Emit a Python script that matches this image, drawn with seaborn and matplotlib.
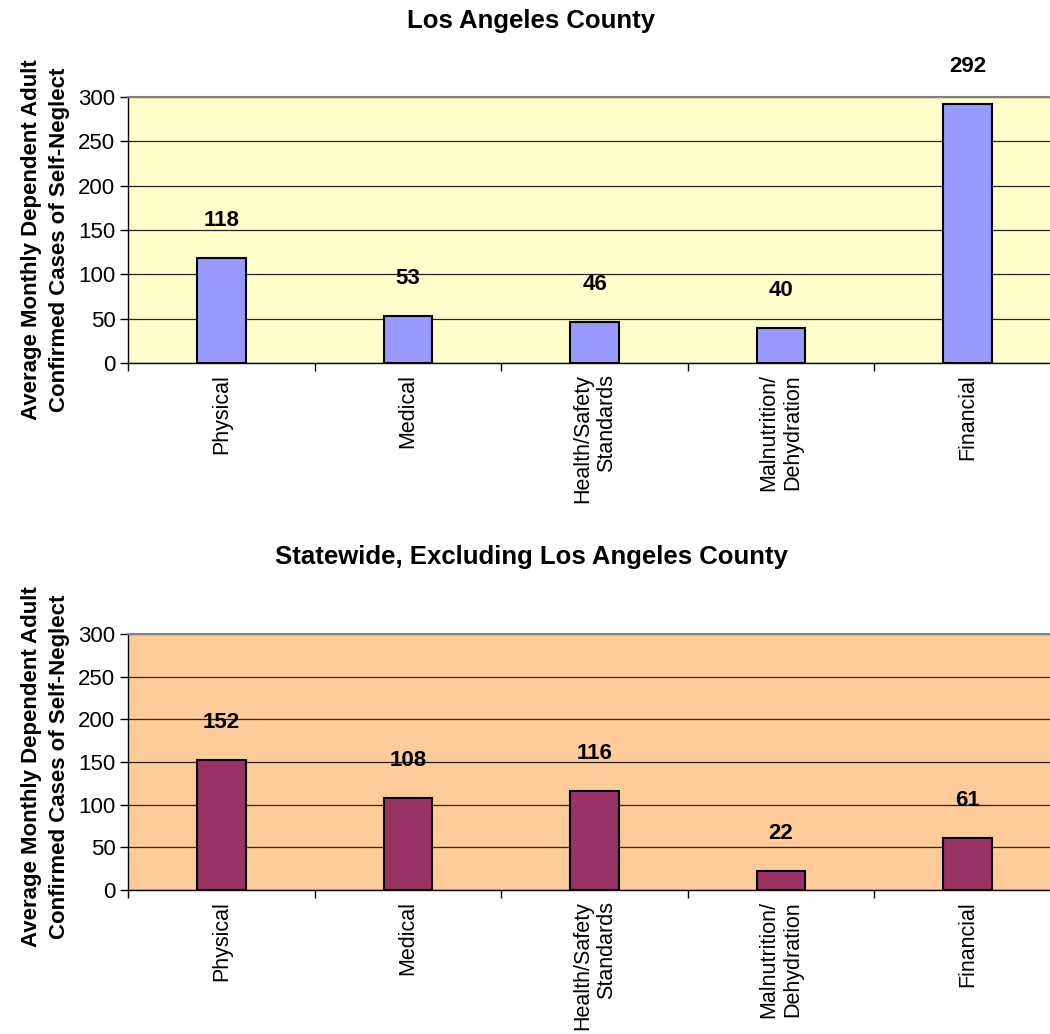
import numpy as np
import pandas as pd
import seaborn as sns
import matplotlib.pyplot as plt
from matplotlib.ticker import FixedLocator

categories = ['Physical', 'Medical', 'Health/Safety\nStandards', 'Malnutrition/\nDehydration', 'Financial']
la_values = [118, 53, 46, 40, 292]
state_values = [152, 108, 116, 22, 61]
yticks = [0, 50, 100, 150, 200, 250, 300]

sns.set_theme(style="white")
plt.rcParams['font.family'] = ['Liberation Sans', 'DejaVu Sans']
plt.rcParams.update({'text.color': 'black', 'axes.labelcolor': 'black',
                     'xtick.color': 'black', 'ytick.color': 'black'})

fig = plt.figure(figsize=(10.5, 10.34), dpi=100)

# title, values, bar colour, background, axes rect, title y, ylabel y
panels = [
    ('Los Angeles County', la_values, '#9999FF', '#FFFFCC', [0.1219, 0.6489, 0.8886, 0.2573], 0.980, 0.462),
    ('Statewide, Excluding Los Angeles County', state_values, '#993366', '#FFCC99', [0.1219, 0.1393, 0.8886, 0.2476], 0.461, 0.48),
]

for title, vals, bar_c, bg_c, pos, ty, ly in panels:
    ax = fig.add_axes(pos)
    df = pd.DataFrame({'cat': categories, 'val': vals})
    sns.barplot(data=df, x='cat', y='val', color=bar_c, saturation=1, width=0.26,
                edgecolor='black', linewidth=1.5, ax=ax, zorder=3)
    ax.set_facecolor(bg_c)
    ax.set_xlim(-0.5, 4.5)
    ax.set_ylim(0, 300)
    ax.set_yticks(yticks)
    ax.yaxis.grid(True, color='#222222', lw=0.9)
    ax.set_axisbelow(True)
    ax.set_xlabel('')
    ax.set_ylabel('Average Monthly Dependent Adult\nConfirmed Cases of Self-Neglect',
                  fontsize=16, fontweight='bold', linespacing=1.45)
    ax.yaxis.set_label_coords(-0.062, ly)
    for s in ['left', 'bottom']:
        ax.spines[s].set_color('black')
        ax.spines[s].set_linewidth(1.0)
    ax.spines['top'].set_color('#808080')
    ax.spines['top'].set_linewidth(1.5)
    ax.spines['right'].set_visible(False)
    ax.tick_params(axis='y', direction='out', length=6, width=1, color='black',
                   left=True, labelsize=16, pad=3)
    ax.tick_params(axis='x', which='major', length=0, pad=8, labelsize=15.5)
    ax.xaxis.set_minor_locator(FixedLocator(np.arange(-0.5, 5, 1.0)))
    ax.tick_params(axis='x', which='minor', direction='out', length=6, width=1,
                   color='black', bottom=True)
    for lab in ax.get_xticklabels():
        lab.set_rotation(90)
        lab.set_multialignment('right')
    for i, v in enumerate(vals):
        ax.annotate(str(v), (i, v), xytext=(0, 27), textcoords='offset points',
                    ha='center', va='center', fontsize=16, fontweight='bold')
    fig.text(0.506, ty, title, ha='center', va='center', fontsize=18.5, fontweight='bold')

fig.savefig('out.png', dpi=100)
